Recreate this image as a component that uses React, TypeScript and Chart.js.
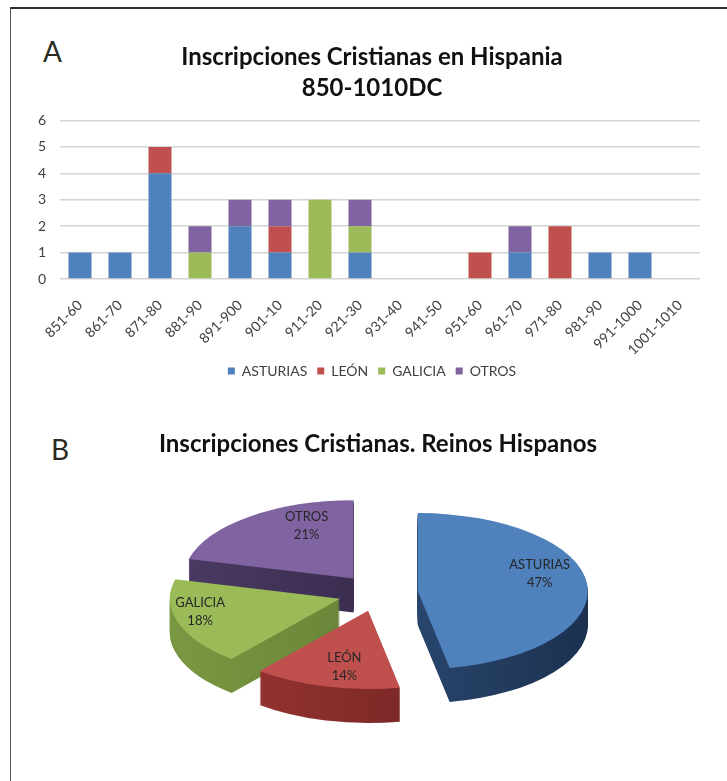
import React, { useEffect, useRef } from 'react';
import { Chart, registerables } from 'chart.js';

Chart.register(...registerables);

// ---------- data ----------
const CATEGORIES = ['851-60', '861-70', '871-80', '881-90', '891-900', '901-10', '911-20', '921-30', '931-40', '941-50', '951-60', '961-70', '971-80', '981-90', '991-1000', '1001-1010'];
const ASTURIAS = [1, 1, 4, 0, 2, 1, 0, 1, 0, 0, 0, 1, 0, 1, 1, 0];
const LEON = [0, 0, 1, 0, 0, 1, 0, 0, 0, 0, 1, 0, 2, 0, 0, 0];
const GALICIA = [0, 0, 0, 1, 0, 0, 3, 1, 0, 0, 0, 0, 0, 0, 0, 0];
const OTROS = [0, 0, 0, 1, 1, 1, 0, 1, 0, 0, 0, 1, 0, 0, 0, 0];
const Y_TICKS = [0, 1, 2, 3, 4, 5, 6];

const PIE_LABELS = ['ASTURIAS', 'LEÓN', 'GALICIA', 'OTROS'];
const PIE_PERCENT = [47, 14, 18, 21];

// ---------- styles ----------
const COLORS = ['#4F81BD', '#C0504D', '#9BBB59', '#8064A2'];
const SIDE_LIGHT = ['#34598a', '#9a3533', '#7a9842', '#4a3a62'];
const SIDE_DARK = ['#1c314f', '#6a2120', '#5c7530', '#2c2240'];
const FONT = 'Lato, "Open Sans", sans-serif';
const TILT = 0.46;
const DEPTH = 34;
const EXPLODE = [40, 40, 40, 40];
const LABEL_R = [0.72, 0.56, 0.865, 0.45];
const LABEL_DY = [-12, 14, -8, -25];

const pie3d = {
  id: 'pie3d',
  beforeDatasetsDraw(chart: any) {
    const ctx = chart.ctx;
    const meta = chart.getDatasetMeta(0);
    const arcs = meta.data as any[];
    if (!arcs.length) return false;
    const cy = arcs[0].y;
    const mids = arcs.map((a) => (a.startAngle + a.endAngle) / 2);
    const order = arcs.map((_, i) => i).sort((i, j) => Math.sin(mids[i]) - Math.sin(mids[j]));
    for (const i of order) {
      const a = arcs[i];
      const m = mids[i];
      const ex = Math.cos(m) * EXPLODE[i];
      const ey = Math.sin(m) * EXPLODE[i];
      const saved = a.options;
      const r = a.outerRadius;
      for (let d = DEPTH; d >= 1; d--) {
        ctx.save();
        ctx.translate(0, cy);
        ctx.scale(1, TILT);
        ctx.translate(0, -cy);
        ctx.translate(ex, ey + d / TILT);
        const g = ctx.createLinearGradient(a.x - r, 0, a.x + r, 0);
        g.addColorStop(0, SIDE_LIGHT[i]);
        g.addColorStop(1, SIDE_DARK[i]);
        a.options = Object.assign({}, saved, { backgroundColor: g, borderWidth: 0 });
        a.draw(ctx);
        ctx.restore();
      }
      a.options = saved;
      ctx.save();
      ctx.translate(0, cy);
      ctx.scale(1, TILT);
      ctx.translate(0, -cy);
      ctx.translate(ex, ey);
      a.draw(ctx);
      ctx.restore();
    }
    return false;
  },
  afterDraw(chart: any) {
    const ctx = chart.ctx;
    const meta = chart.getDatasetMeta(0);
    const arcs = meta.data as any[];
    if (!arcs.length) return;
    const cy = arcs[0].y;
    ctx.save();
    ctx.font = '13px ' + FONT;
    ctx.fillStyle = '#262626';
    ctx.textAlign = 'center';
    ctx.textBaseline = 'middle';
    arcs.forEach((a, i) => {
      const m = (a.startAngle + a.endAngle) / 2;
      const R = a.outerRadius * LABEL_R[i] + EXPLODE[i];
      const x = a.x + Math.cos(m) * R;
      const y = cy + Math.sin(m) * R * TILT + LABEL_DY[i];
      ctx.fillText(PIE_LABELS[i], x, y - 9);
      ctx.fillText(PIE_PERCENT[i] + '%', x, y + 9);
    });
    ctx.restore();
  },
};

export default function App() {
  const barRef = useRef<HTMLCanvasElement>(null);
  const pieRef = useRef<HTMLCanvasElement>(null);

  useEffect(() => {
    document.body.style.margin = '0';
    const tickFont = { family: FONT, size: 14 };
    const bar = new Chart(barRef.current as HTMLCanvasElement, {
      type: 'bar',
      data: {
        labels: CATEGORIES,
        datasets: [
          { label: 'ASTURIAS', data: ASTURIAS, backgroundColor: COLORS[0] },
          { label: 'LEÓN', data: LEON, backgroundColor: COLORS[1] },
          { label: 'GALICIA', data: GALICIA, backgroundColor: COLORS[2] },
          { label: 'OTROS', data: OTROS, backgroundColor: COLORS[3] },
        ],
      },
      options: {
        animation: false,
        responsive: false,
        maintainAspectRatio: false,
        layout: { padding: { left: 36, right: 19, top: 0, bottom: 7 } },
        datasets: { bar: { barPercentage: 0.575, categoryPercentage: 1, borderWidth: 0 } },
        scales: {
          x: {
            stacked: true,
            grid: { display: false },
            border: { display: false },
            ticks: { minRotation: 45, maxRotation: 45, autoSkip: false, font: tickFont, color: '#404040', padding: 10 },
            afterFit: (s: any) => { s.height = 75; },
          },
          y: {
            stacked: true,
            min: Y_TICKS[0],
            max: Y_TICKS[Y_TICKS.length - 1],
            ticks: { stepSize: 1, padding: 14, font: tickFont, color: '#404040' },
            grid: { color: '#d4d4d4', drawTicks: false, lineWidth: 1.5 },
            border: { display: false },
            afterFit: (s: any) => { s.width = 24; },
          },
          yRight: {
            position: 'right',
            display: true,
            ticks: { display: false },
            grid: { display: false },
            border: { display: false },
            afterFit: (s: any) => { s.width = 8; },
          },
        },
        plugins: {
          title: {
            display: true,
            text: ['Inscripciones Cristianas en Hispania', '850-1010DC'],
            font: { family: FONT, size: 24, weight: 'bold', lineHeight: 31 / 24 },
            color: '#111',
            padding: { top: 41.5, bottom: 17 },
          },
          legend: {
            position: 'bottom',
            labels: { boxWidth: 7, boxHeight: 7, font: tickFont, color: '#404040', padding: 10 },
          },
          tooltip: { enabled: false },
        },
      },
    } as any);

    const pie = new Chart(pieRef.current as HTMLCanvasElement, {
      type: 'pie',
      data: {
        labels: PIE_LABELS,
        datasets: [{ data: PIE_PERCENT, backgroundColor: COLORS, borderWidth: 0, radius: 170 }],
      },
      options: {
        animation: false,
        responsive: false,
        maintainAspectRatio: false,
        layout: { padding: { left: 29, right: 0, top: 0, bottom: 42.4 } },
        plugins: {
          title: {
            display: true,
            text: 'Inscripciones Cristianas. Reinos Hispanos',
            font: { family: FONT, size: 24, weight: 'bold', lineHeight: 1.2 },
            color: '#111',
            padding: { top: 29.6, bottom: 10 },
          },
          legend: { display: false },
          tooltip: { enabled: false },
        },
      },
      plugins: [pie3d],
    } as any);

    return () => {
      bar.destroy();
      pie.destroy();
    };
  }, []);

  const letter: React.CSSProperties = {
    position: 'absolute',
    fontFamily: FONT,
    fontSize: 28,
    lineHeight: '28px',
    color: '#2b2b22',
  };

  return (
    <div style={{ position: 'relative', width: 727, height: 781, overflow: 'hidden', background: '#fff' }}>
      <div
        style={{
          position: 'absolute',
          left: 10,
          top: 7,
          width: 717,
          height: 774,
          borderTop: '2px solid #2e2e2e',
          borderLeft: '1.5px solid #555',
        }}
      />
      <div style={{ ...letter, left: 43, top: 37 }}>A</div>
      <div style={{ ...letter, left: 51, top: 435 }}>B</div>
      <canvas ref={barRef} width={727} height={395} style={{ position: 'absolute', left: 0, top: 0 }} />
      <canvas ref={pieRef} width={727} height={360} style={{ position: 'absolute', left: 0, top: 400 }} />
    </div>
  );
}
